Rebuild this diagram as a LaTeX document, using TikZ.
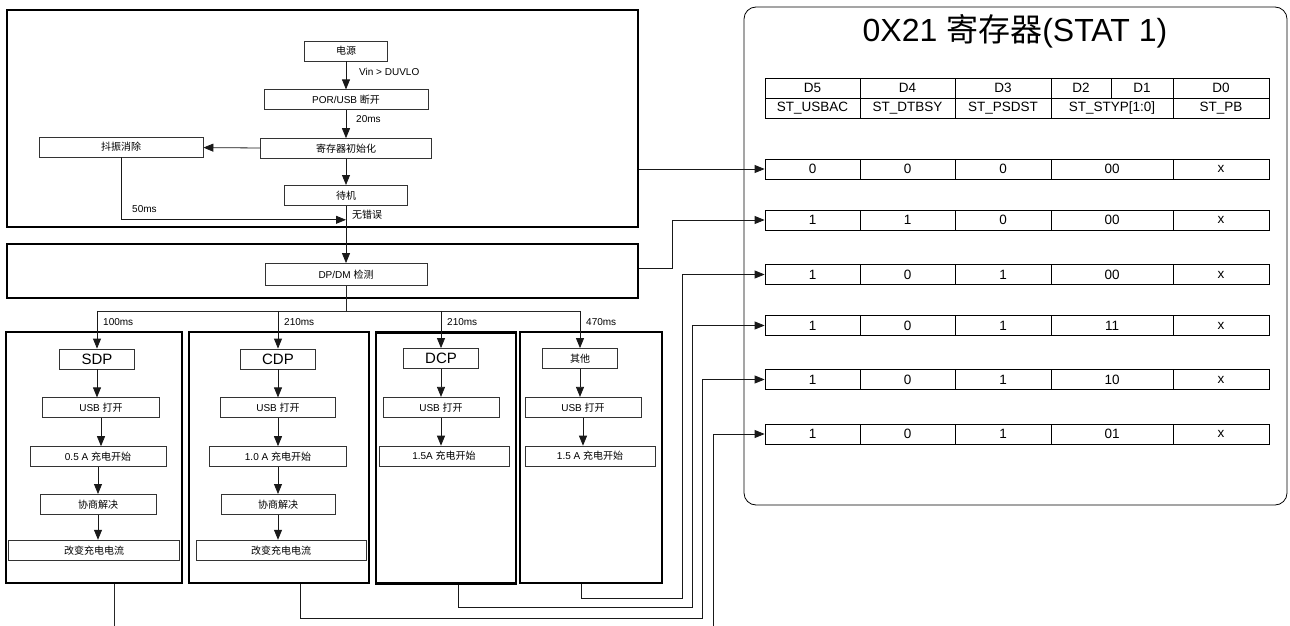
\documentclass[tikz,border=0pt]{standalone}
\usepackage{fontspec}
\setmainfont{Liberation Sans}
\newfontfamily\cjk{Noto Sans CJK SC}
\usetikzlibrary{positioning,arrows.meta}

\begin{document}
\begin{tikzpicture}[
x=1pt, y=-1pt,
node distance=28pt,
frame/.style={draw, line width=2.6pt, inner sep=0pt},
flow/.style={draw=black!80, line width=0.8pt, minimum height=20pt, inner sep=0pt, font=\fontsize{10}{12}\selectfont},
kind/.style={flow, minimum width=75pt, font=\fontsize{15}{17}\selectfont},
cell/.style={draw, line width=0.8pt, minimum height=20pt, inner sep=0pt, font=\fontsize{13.5}{15}\selectfont},
tag/.style={inner sep=0pt, anchor=west, font=\fontsize{10}{12}\selectfont},
arrow/.style={-{Triangle[length=10pt,width=8pt]}, line width=0.8pt, black!90},
link/.style={line width=0.8pt, black!85}
]
\useasboundingbox (0,0) rectangle (1290,626);

% power-up sequence
\node[frame, minimum width=631pt, minimum height=217pt] (initfr) at (322.5,118.5) {};
\node[flow, minimum width=83pt] (pwr) at (346,51) {\cjk 电源};
\node[flow, minimum width=164pt, below=of pwr] (por) {POR/USB {\cjk 断开}};
\node[flow, minimum width=171pt, below=of por] (reg) {\cjk 寄存器初始化};
\node[flow, minimum width=123pt, below=26pt of reg] (idle) {\cjk 待机};
\node[flow, minimum width=164pt] (deb) at (121,147) {\cjk 抖振消除};
\coordinate (merge) at ([yshift=-14pt]idle.south);

\draw[arrow] (pwr) -- (por);
\draw[arrow] (por) -- (reg);
\draw[arrow] (reg) -- (deb);
\draw[arrow] (reg) -- (idle);
\draw[arrow] (deb) |- (merge);
\node[tag] (vin) at (359,72) {Vin > DUVLO};
\node[tag] (t20) at (356,119) {20ms};
\node[tag] (t50) at (132,209) {50ms};
\node[tag] (noerr) at (352,215) {\cjk 无错误};

% DP/DM detection
\node[frame, minimum width=631pt, minimum height=54pt] (detfr) at (322.5,271) {};
\node[flow, minimum width=162pt, minimum height=22pt] (dpdm) at (346,274.5) {DP/DM {\cjk 检测}};
\draw[arrow] (idle) -- (dpdm);
\coordinate (split) at ([yshift=-25pt]dpdm.south);
\draw[link] (dpdm) -- (split);

% port types
\node[frame, minimum width=176pt, minimum height=251pt] (sdpfr) at (94,457.5) {};
\node[frame, minimum width=180pt, minimum height=251pt] (cdpfr) at (279,457.5) {};
\node[frame, minimum width=140pt, minimum height=251pt] (dcpfr) at (446,458) {};
\node[frame, minimum width=142pt, minimum height=251pt] (othfr) at (591,457.5) {};

\node[kind] (sdp) at (97,359) {SDP};
\node[flow, minimum width=117pt, below=of sdp, xshift=4pt] (susb) {USB {\cjk 打开}};
\node[flow, minimum width=136pt, below=of susb, xshift=-3pt] (schg) {0.5 A {\cjk 充电开始}};
\node[flow, minimum width=116pt, below=27pt of schg] (sneg) {\cjk 协商解决};
\node[flow, minimum width=171pt, below=25pt of sneg, xshift=-4pt] (svar) {\cjk 改变充电电流};

\node[kind] (cdp) at (278,359) {CDP};
\node[flow, minimum width=115pt, below=of cdp] (cusb) {USB {\cjk 打开}};
\node[flow, minimum width=137pt, below=of cusb] (cchg) {1.0 A {\cjk 充电开始}};
\node[flow, minimum width=114pt, below=27pt of cchg] (cneg) {\cjk 协商解决};
\node[flow, minimum width=170pt, below=25pt of cneg, xshift=3pt] (cvar) {\cjk 改变充电电流};

\node[kind] (dcp) at (441,358.5) {DCP};
\node[flow, minimum width=116pt, below=of dcp] (dusb) {USB {\cjk 打开}};
\node[flow, minimum width=130pt, below=of dusb, xshift=3pt] (dchg) {1.5A {\cjk 充电开始}};

\node[kind, font=\fontsize{10}{12}\selectfont] (oth) at (580,358.5) {\cjk 其他};
\node[flow, minimum width=116pt, below=of oth, xshift=3pt] (ousb) {USB {\cjk 打开}};
\node[flow, minimum width=130pt, below=of ousb, xshift=7pt] (ochg) {1.5 A {\cjk 充电开始}};

\draw[link] (sdp.north |- split) -- (oth.north |- split);
\foreach \k/\t in {sdp/100ms, cdp/210ms, dcp/210ms, oth/470ms} {
  \draw[arrow] (\k.north |- split) -- (\k.north);
  \node[tag] (t\k) at ([xshift=6pt,yshift=-11pt]\k.north |- split) {\t};
}
\foreach \a/\b in {sdp/susb, susb/schg, schg/sneg, sneg/svar, cdp/cusb, cusb/cchg, cchg/cneg, cneg/cvar, dcp/dusb, dusb/dchg, oth/ousb, ousb/ochg}
  \draw[arrow] (\a.south) -- (\a.south |- \b.north);

% STAT1 register
\node[draw, rounded corners=12pt, line width=0.8pt, minimum width=543pt, minimum height=498pt] (regfr) at (1015.5,256) {};
\node[font=\fontsize{32}{36}\selectfont] (title) at (1015,31) {0X21 {\cjk 寄存器}(STAT 1)};
\foreach \n/\cx/\w/\t in {5/812.5/95/D5, 4/907.5/95/D4, 3/1003/96/D3, 2/1081/60/D2, 1/1142/62/D1, 0/1221/96/D0}
  \node[cell, minimum width=\w pt] (hd\n) at (\cx,88) {\t};
\foreach \n/\cx/\w/\t in {1/812.5/95/ST\_USBAC, 2/907.5/95/ST\_DTBSY, 3/1003/96/ST\_PSDST, 4/1112/122/ST\_STYP[1:0], 5/1221/96/ST\_PB}
  \node[cell, minimum width=\w pt] (fd\n) at (\cx,108) {\t};

\foreach \r/\yy/\a/\b/\c/\d in {1/169/0/0/0/00, 2/220/1/1/0/00, 3/274.5/1/0/1/00, 4/325.5/1/0/1/11, 5/379.5/1/0/1/10, 6/434/1/0/1/01} {
  \node[cell, minimum width=95pt] (r\r-1) at (812.5,\yy) {\a};
  \node[cell, minimum width=95pt] (r\r-2) at (907.5,\yy) {\b};
  \node[cell, minimum width=96pt] (r\r-3) at (1003,\yy) {\c};
  \node[cell, minimum width=122pt] (r\r-4) at (1112,\yy) {\d};
  \node[cell, minimum width=96pt] (r\r-5) at (1221,\yy) {x};
}

% links to register values
\draw[arrow] (r1-1.west -| initfr.east) -- (r1-1.west);
\draw[arrow] ([yshift=3pt]detfr.east) -- ++(33,0) |- (r2-1.west);
\draw[arrow] ([xshift=-10pt]othfr.south) -- ++(0,14) -| ([xshift=-82pt]r3-1.west) -- (r3-1.west);
\draw[arrow] ([xshift=12pt]dcpfr.south) -- ++(0,23) -| ([xshift=-72pt]r4-1.west) -- (r4-1.west);
\draw[arrow] ([xshift=21pt]cdpfr.south) -- ++(0,34) -| ([xshift=-62pt]r5-1.west) -- (r5-1.west);
\draw[link] ([xshift=20pt]sdpfr.south) -- ++(0,43);
\coordinate (r6in) at (713,626);
\draw[arrow] (r6in) |- (r6-1.west);
\end{tikzpicture}
\end{document}
